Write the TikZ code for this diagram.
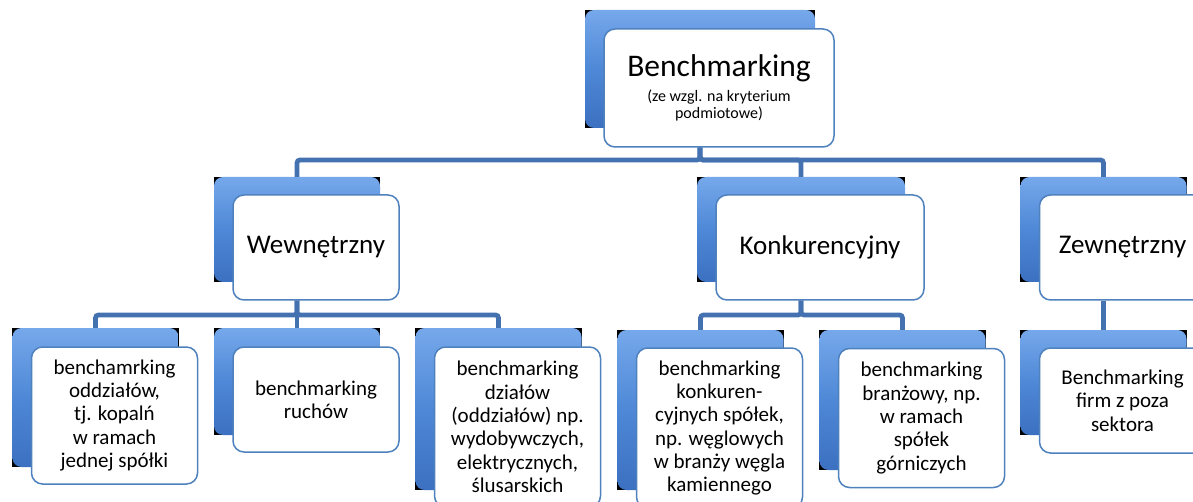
\documentclass[tikz,border=0pt]{standalone}
\usepackage{fontspec}
\setmainfont{Carlito}
\usetikzlibrary{positioning,backgrounds}
\definecolor{linkblue}{RGB}{68,114,176}
\definecolor{edgeblue}{RGB}{79,129,189}
\definecolor{boxtop}{RGB}{118,168,235}
\definecolor{boxmid}{RGB}{78,136,214}
\definecolor{boxbot}{RGB}{60,112,192}

\begin{document}
\begin{tikzpicture}[x=1pt, y=-1pt,
  back/.style={rounded corners=9pt, top color=boxtop, bottom color=boxbot, middle color=boxmid,
               inner sep=0pt, minimum width=166, minimum height=105},
  card/.style={draw=edgeblue, line width=1.5pt, fill=white, rounded corners=11pt, align=center,
               inner sep=2pt, minimum width=166, minimum height=105,
               font=\fontsize{21}{23.3}\selectfont},
  head/.style={card, font=\fontsize{27}{30}\selectfont},
  link/.style={draw=linkblue, line width=4.8pt, rounded corners=3pt},
]
\useasboundingbox (0,0) rectangle (1193,502);

\node[back, minimum width=230, minimum height=118] (bm0) at (700,69) {};
\node[card, minimum width=230, minimum height=118, font=\fontsize{16}{17}\selectfont] (bm) at (719,88)
  {{\fontsize{31.5}{34}\selectfont Benchmarking}\\[7pt] (ze wzgl. na kryterium\\ podmiotowe)};

\node[back] (wew0) at (297,229.5) {};
\node[head] (wew)  at (316,247.5) {Wewnętrzny};
\node[back, minimum width=208] (kon0) at (801,229.5) {};
\node[head, minimum width=208] (kon)  at (820,247.5) {Konkurencyjny};
\node[back] (zew0) at (1103.5,229.5) {};
\node[head] (zew)  at (1122.5,247.5) {Zewnętrzny};

\node[back, minimum height=139] (wa0) at (95.5,397.5) {};
\node[card, minimum height=137] (wa)  at (114.5,415.5) {benchamrking\\oddziałów,\\tj. kopalń\\w ramach\\jednej spółki};
\node[back, minimum height=107] (wb0) at (297,381.5) {};
\node[card, minimum height=105] (wb)  at (316,399.5) {benchmarking\\ruchów};
\node[back, minimum height=162] (wc0) at (498.5,409) {};
\node[card, minimum height=160] (wc)  at (517.5,427) {benchmarking\\działów\\(oddziałów) np.\\wydobywczych,\\elektrycznych,\\ślusarskich};

\node[back, minimum height=160] (ka0) at (700.5,410) {};
\node[card, minimum height=160] (ka)  at (719.5,428) {benchmarking\\konkuren-\\cyjnych spółek,\\np. węglowych\\w branży węgla\\kamiennego};
\node[back, minimum height=140] (kb0) at (902.5,400) {};
\node[card, minimum height=139] (kb)  at (921.5,418) {benchmarking\\branżowy, np.\\w ramach\\spółek\\górniczych};

\node[back] (za0) at (1103.5,382.5) {};
\node[card] (za)  at (1122.5,400.5) {Benchmarking\\firm z poza\\sektora};

\begin{scope}[on background layer]
  \foreach \n in {bm0,wew0,kon0,zew0,wa0,wb0,wc0,ka0,kb0,za0}
    \fill[black] (\n.north west) rectangle (\n.south east);
\end{scope}

\coordinate (bar1) at (0,160);
\coordinate (bar2) at (0,315);

\draw[link] (bm.south -| bm0) -- (bm0 |- bar1) -| (wew0.north);
\draw[link] (bm.south -| bm0) -- (bm0 |- bar1) -| (kon0.north);
\draw[link] (bm.south -| bm0) -- (bm0 |- bar1) -| (zew0.north);

\draw[link] (wew.south -| wew0) -- (wew0 |- bar2) -| (wa0.north);
\draw[link] (wew.south -| wew0) -- (wb0.north);
\draw[link] (wew.south -| wew0) -- (wew0 |- bar2) -| (wc0.north);

\draw[link] (kon.south -| kon0) -- (kon0 |- bar2) -| (ka0.north);
\draw[link] (kon.south -| kon0) -- (kon0 |- bar2) -| (kb0.north);

\draw[link] (zew.south -| zew0) -- (za0.north);
\end{tikzpicture}
\end{document}
